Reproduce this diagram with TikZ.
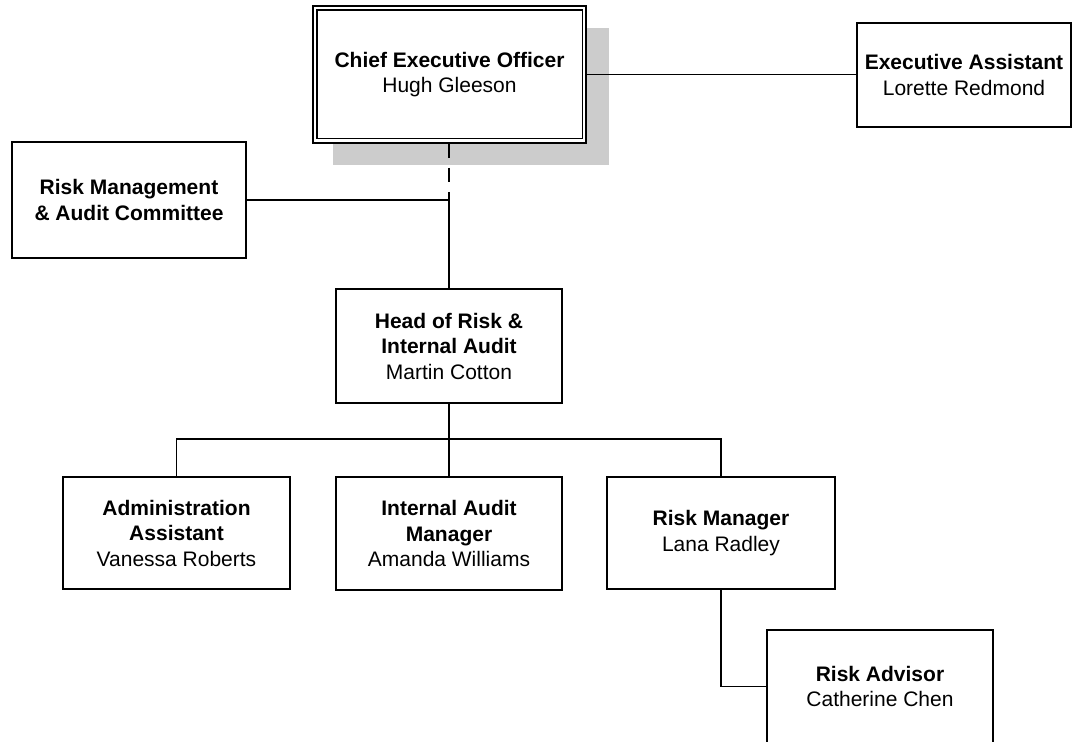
\documentclass[tikz,border=0pt]{standalone}
\usepackage{fontspec}
\setmainfont{Liberation Sans}
\usetikzlibrary{calc}

\tikzset{
  post/.style={draw, line width=1.9pt, fill=white, align=center, inner sep=0pt,
               font=\fontsize{21}{25.5}\selectfont},
  conn/.style={line width=1.9pt},
  dotted link/.style={conn, dash pattern=on 14pt off 10pt},
  shade box/.style={fill=black!20, draw=none}
}

\begin{document}
\begin{tikzpicture}[x=1pt, y=-1pt]
  \useasboundingbox (0,0) rectangle (1075,741);

  % drop shadow behind the chief executive
  \fill[shade box] (333,28) rectangle (609,165);

  % chief executive, with a double frame
  \node[post, minimum width=273pt, minimum height=137pt] (ceo) at (449.5,74.5)
    {\textbf{Chief Executive Officer}\\Hugh Gleeson};
  \draw[line width=1.9pt] ([shift={(4.5pt,-5pt)}]ceo.north west)
    rectangle ([shift={(-4.5pt,5.5pt)}]ceo.south east);

  \node[post, minimum width=214pt, minimum height=104pt] (ea) at (964,75)
    {\textbf{Executive Assistant}\\Lorette Redmond};

  \node[post, minimum width=234pt, minimum height=116pt] (rmac) at (129,200)
    {\textbf{Risk Management}\\\textbf{\& Audit Committee}};

  \node[post, minimum width=226pt, minimum height=114pt] (head) at (449,346)
    {\textbf{Head of Risk \&}\\\textbf{Internal Audit}\\Martin Cotton};

  \node[post, minimum width=227pt, minimum height=112pt] (admin) at (176.5,533)
    {\textbf{Administration}\\\textbf{Assistant}\\Vanessa Roberts};

  \node[post, minimum width=226pt, minimum height=113pt] (iam) at (449,533.5)
    {\textbf{Internal Audit}\\\textbf{Manager}\\Amanda Williams};

  \node[post, minimum width=228pt, minimum height=112pt] (rm) at (721,533)
    {\textbf{Risk Manager}\\Lana Radley};

  \node[post, minimum width=226pt, minimum height=113pt] (ra) at (880,686.5)
    {\textbf{Risk Advisor}\\Catherine Chen};

  % reporting lines
  \coordinate (bus) at (449,439);
  \draw[conn] (ceo.east) -- (ea.west |- ceo.east);
  \draw[dotted link] (head.north |- ceo.south) -- (head.north |- rmac.east);
  \draw[conn] (rmac.east) -- (head.north |- rmac.east) -- (head.north);
  \draw[conn] (head.south) -- (iam.north);
  \draw[conn] (admin.north) -- (admin.north |- bus) -- (rm.north |- bus) -- (rm.north);
  \draw[conn] (rm.south) |- (ra.west);
\end{tikzpicture}
\end{document}
